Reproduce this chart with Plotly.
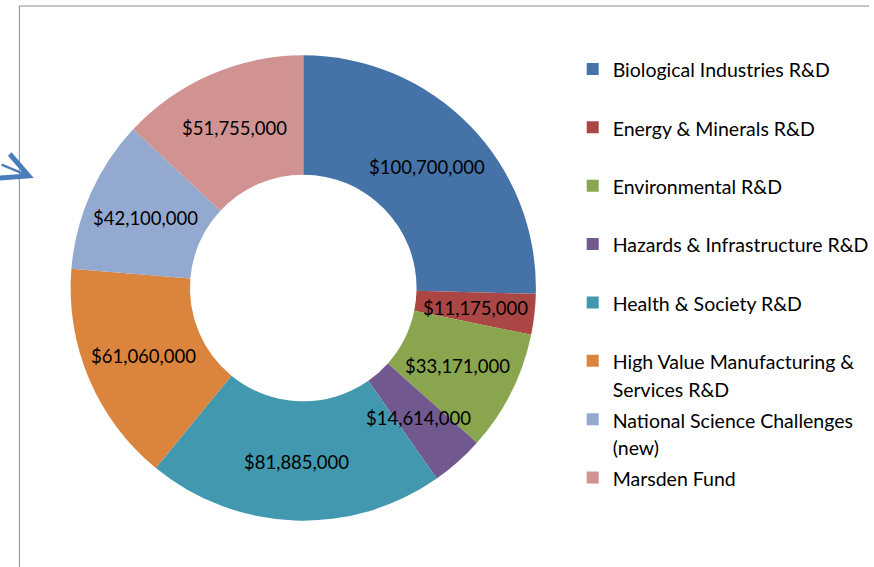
import math
import plotly.graph_objects as go

categories = [
    "Biological Industries R&D",
    "Energy & Minerals R&D",
    "Environmental R&D",
    "Hazards & Infrastructure R&D",
    "Health & Society R&D",
    "High Value Manufacturing &<br>Services R&D",
    "National Science Challenges<br>(new)",
    "Marsden Fund",
]
values = [100700000, 11175000, 33171000, 14614000, 81885000, 61060000, 42100000, 51755000]
colors = ["#4572A7", "#AA4643", "#89A54E", "#71588F", "#4198AF", "#DB843D", "#93A9CF", "#D19392"]

W, H = 874, 567
FONT = "Lato"
HOLE = 0.487

def legend_label(s):
    lines = s.split("<br>")
    if len(lines) < 2:
        lines.append(" ")
    return "<br>".join('<span style="font-size:19.5px">%s</span>' % l for l in lines)

labels = [legend_label(c) for c in categories]

cx, cy, R = 305, 288, 234

fig = go.Figure(
    go.Pie(
        labels=labels,
        values=values,
        sort=False,
        direction="clockwise",
        rotation=0,
        hole=HOLE,
        marker=dict(colors=colors, line=dict(width=0)),
        textinfo="none",
        domain=dict(
            x=[(cx - R) / W, (cx + R) / W],
            y=[(H - cy - R) / H, (H - cy + R) / H],
        ),
        hoverinfo="skip",
    )
)

# data labels at the middle of each ring segment (computed from the values)
total = sum(values)
rmid = R * (1 + HOLE) / 2
annotations = []
cum = 0
for v in values:
    mid = (cum + v / 2) / total * 2 * math.pi
    cum += v
    px = cx + rmid * math.sin(mid)
    py = cy - rmid * math.cos(mid)
    annotations.append(dict(
        xref="paper", yref="paper", x=px / W, y=1 - py / H,
        text="${:,}".format(v), showarrow=False,
        xanchor="center", yanchor="middle",
        font=dict(family=FONT, size=18.5, color="#000000"),
    ))

annotations.append(dict(
    xref="paper", yref="paper", x=34 / W, y=1 - 178 / H,
    ax=-34, ay=-14, axref="pixel", ayref="pixel",
    text="", showarrow=True, arrowhead=5, arrowsize=2.2,
    arrowwidth=2.3, arrowcolor="#4A7EBB", standoff=0,
))

fig.update_layout(
    width=W,
    height=H,
    margin=dict(l=0, r=0, t=0, b=0),
    paper_bgcolor="white",
    plot_bgcolor="white",
    font=dict(family=FONT, color="#000000"),
    showlegend=True,
    legend=dict(
        x=576 / W,
        xanchor="left",
        y=1 - 48.6 / H,
        yanchor="top",
        font=dict(family=FONT, size=21.3, color="#000000"),
        valign="top",
        bgcolor="rgba(0,0,0,0)",
        borderwidth=0,
        traceorder="normal",
    ),
    shapes=[
        dict(type="line", xref="paper", yref="paper",
             x0=19.5 / W, x1=19.5 / W, y0=0, y1=1 - 6 / H,
             line=dict(color="#8c8c8c", width=1)),
        dict(type="line", xref="paper", yref="paper",
             x0=19.5 / W, x1=1, y0=1 - 6 / H, y1=1 - 6 / H,
             line=dict(color="#8c8c8c", width=1)),
    ],
    annotations=annotations,
)

fig.write_html("out.html")
